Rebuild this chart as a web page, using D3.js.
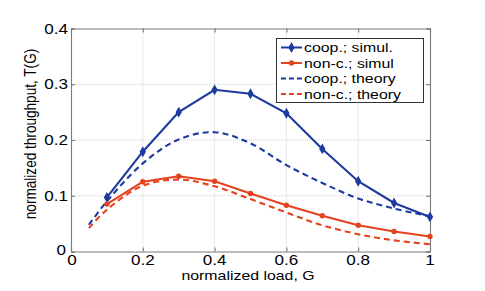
<!DOCTYPE html>
<html><head><meta charset="utf-8">
<script src="https://cdn.jsdelivr.net/npm/d3@7"></script>
<style>body{margin:0;background:#fff}svg{display:block}text{font-family:"Liberation Sans",Arial,sans-serif;fill:#000}</style>
</head><body>
<script>
const loadSim = [0.1,0.2,0.3,0.4,0.5,0.6,0.7,0.8,0.9,1.0];
const coopSim = [0.097,0.179,0.250,0.290,0.283,0.248,0.184,0.126,0.087,0.062];
const noncSim = [0.085,0.125,0.135,0.126,0.104,0.083,0.064,0.047,0.036,0.027];
const loadTh = [0.05,0.1,0.2,0.3,0.4,0.5,0.6,0.7,0.8,0.9,1.0];
const coopTh = [0.048,0.090,0.158,0.201,0.214,0.194,0.155,0.123,0.095,0.077,0.063];
const noncTh = [0.042,0.075,0.118,0.129,0.117,0.094,0.070,0.047,0.031,0.020,0.013];
const xTicks = [0,0.2,0.4,0.6,0.8,1];
const yTicks = [0,0.1,0.2,0.3,0.4];
const xTickLabels = ["0","0.2","0.4","0.6","0.8","1"];
const yTickLabels = ["0","0.1","0.2","0.3","0.4"];
const legendLabels = ["coop.; simul.","non-c.; simul","coop.; theory","non-c.; theory"];

const W=485,H=291, SX=1.22;
const BLUE="#1d3a9e", RED="#e5421f";
const svg=d3.select("body").append("svg").attr("width",W).attr("height",H);
const x=d3.scaleLinear().domain([0,1]).range([71,430]);
const y=d3.scaleLinear().domain([0,0.4]).range([251.5,28.5]);

// grid
const g=svg.append("g");
g.selectAll(".gx").data(xTicks.slice(1,-1)).join("line")
 .attr("x1",d=>x(d)).attr("x2",d=>x(d)).attr("y1",y(0)).attr("y2",y(0.4))
 .attr("stroke","#c8c8c8").attr("stroke-width",0.8).attr("stroke-dasharray","1,1");
g.selectAll(".gy").data(yTicks.slice(1,-1)).join("line")
 .attr("y1",d=>y(d)).attr("y2",d=>y(d)).attr("x1",x(0)).attr("x2",x(1))
 .attr("stroke","#c8c8c8").attr("stroke-width",0.8).attr("stroke-dasharray","1,1");

// axes with inward ticks
const AX="#7a7a7a";
const xb=svg.append("g").attr("transform",`translate(0,${y(0)})`)
 .call(d3.axisBottom(x).tickValues(xTicks).tickSize(-4).tickFormat(""));
const xt=svg.append("g").attr("transform",`translate(0,${y(0.4)})`)
 .call(d3.axisTop(x).tickValues(xTicks).tickSize(-4).tickFormat(""));
const yl=svg.append("g").attr("transform",`translate(${x(0)},0)`)
 .call(d3.axisLeft(y).tickValues(yTicks).tickSize(-4).tickFormat(""));
const yr=svg.append("g").attr("transform",`translate(${x(1)},0)`)
 .call(d3.axisRight(y).tickValues(yTicks).tickSize(-4).tickFormat(""));
[xb,xt,yl,yr].forEach(a=>{a.selectAll("path,line").attr("stroke",AX).attr("stroke-width",1.1);});

// tick labels (horizontally stretched)
svg.selectAll(".xtl").data(xTicks).join("text")
 .attr("transform",(d,i)=>`translate(${x(d)+(i===0?1:0)},${265}) scale(${SX},1)`)
 .attr("text-anchor","middle").attr("font-size",14).text((d,i)=>xTickLabels[i]);
svg.selectAll(".ytl").data(yTicks).join("text")
 .attr("transform",(d,i)=>`translate(${x(0)-(i===0?5:3)},${y(d)+(i===0?3:5)}) scale(${SX},1)`)
 .attr("text-anchor","end").attr("font-size",14).text((d,i)=>yTickLabels[i]);

// axis titles
svg.append("text").attr("transform",`translate(248,280) scale(${SX},1)`)
 .attr("text-anchor","middle").attr("font-size",13).text("normalized load, G");
svg.append("text").attr("transform",`translate(36,134) scale(${SX},1) rotate(-90)`)
 .attr("text-anchor","middle").attr("font-size",13.6).text("normalized throughput, T(G)");

// lines
const line=d3.line().x(d=>x(d[0])).y(d=>y(d[1]));
const curve=d3.line().x(d=>x(d[0])).y(d=>y(d[1])).curve(d3.curveCatmullRom);
const zip=(a,b)=>a.map((v,i)=>[v,b[i]]);
svg.append("path").attr("d",curve(zip(loadTh,coopTh))).attr("fill","none").attr("stroke",BLUE).attr("stroke-width",2.1).attr("stroke-dasharray","6,4");
svg.append("path").attr("d",curve(zip(loadTh,noncTh))).attr("fill","none").attr("stroke",RED).attr("stroke-width",2.1).attr("stroke-dasharray","6,4");
svg.append("path").attr("d",line(zip(loadSim,coopSim))).attr("fill","none").attr("stroke",BLUE).attr("stroke-width",2.1);
svg.append("path").attr("d",line(zip(loadSim,noncSim))).attr("fill","none").attr("stroke",RED).attr("stroke-width",2.1);
const diamond=d3.symbol().type(d3.symbolDiamond).size(34);
svg.selectAll(".mb").data(zip(loadSim,coopSim)).join("path")
 .attr("d",diamond).attr("transform",d=>`translate(${x(d[0])},${y(d[1])})`).attr("fill",BLUE);
svg.selectAll(".mr").data(zip(loadSim,noncSim)).join("circle")
 .attr("cx",d=>x(d[0])).attr("cy",d=>y(d[1])).attr("r",2.7).attr("fill",RED);

// legend
const lg=svg.append("g");
lg.append("rect").attr("x",276.5).attr("y",38.5).attr("width",147).attr("height",64)
 .attr("fill","#fff").attr("stroke","#333").attr("stroke-width",1);
const rowY=[47.5,63,78.5,94];
const lcol=[BLUE,RED,BLUE,RED];
legendLabels.forEach((t,i)=>{
  const yy=rowY[i];
  lg.append("line").attr("x1",281).attr("x2",302).attr("y1",yy).attr("y2",yy)
   .attr("stroke",lcol[i]).attr("stroke-width",2).attr("stroke-dasharray",i>=2?"5,3":null);
  if(i===0) lg.append("path").attr("d",diamond).attr("transform",`translate(291.5,${yy})`).attr("fill",BLUE);
  if(i===1) lg.append("circle").attr("cx",291.5).attr("cy",yy).attr("r",2.7).attr("fill",RED);
  lg.append("text").attr("transform",`translate(304,${yy+4.5}) scale(${SX},1)`)
   .attr("font-size",13).text(t);
});
</script>
</body></html>
